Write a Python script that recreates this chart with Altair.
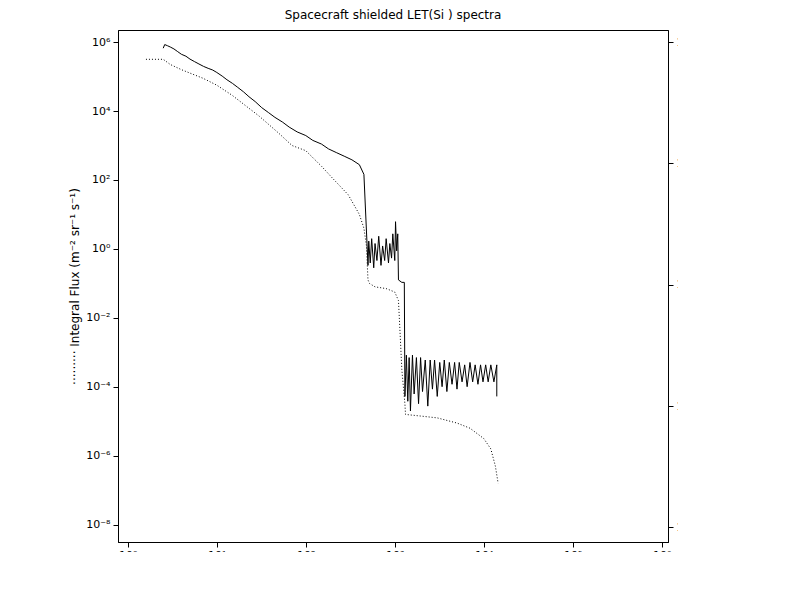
import altair as alt
import pandas as pd
import numpy as np

# integral flux (dotted, left axis), log10 values
int_let = [1.6, 2.5, 3, 4, 5, 7, 10, 15, 20, 30, 50, 70, 100, 150, 200, 300, 400, 450, 480, 500,
           520, 600, 800, 1000, 1100, 1150, 1200, 1300, 1320, 2000, 3000, 5000, 7000, 10000, 12000, 13500, 14500]
int_log = [5.5, 5.5, 5.35, 5.2, 5.1, 4.95, 4.75, 4.45, 4.2, 3.85, 3.35, 3.0, 2.85, 2.4, 2.05, 1.57, 1.0, 0.6, 0.1, -0.9,
           -1.0, -1.1, -1.15, -1.25, -1.5, -2.5, -3.5, -4.5, -4.8, -4.85, -4.9, -5.05, -5.2, -5.5, -5.8, -6.3, -6.8]

# differential flux (solid, right axis), log10 values
diff_let = [2.5, 2.6, 2.8, 3.0, 3.3, 3.6, 4.0, 4.5, 5.0, 5.6, 6.3, 7.1, 8.0, 9.0, 10, 11.5, 13, 15, 17, 20,
            23, 27, 32, 38, 45, 55, 65, 80, 100, 120, 150, 180, 220, 270, 330, 400, 450, 500,
            510, 530, 550, 580, 600, 630, 660, 700, 730, 770, 800, 850, 880, 920, 950, 1000, 1020, 1050, 1080, 1100, 1200,
            1280, 1300, 1350, 1400, 1450, 1500, 1580, 1650, 1750, 1850, 1950, 2050, 2200, 2350, 2500, 2650, 2800,
            3000, 3200, 3400, 3600, 3850, 4100, 4400, 4700, 5000, 5300, 5700, 6100, 6500, 7000, 7500, 8000,
            8600, 9200, 9800, 10500, 11200, 12000, 13000, 14000, 14000]
diff_log = [4.75, 4.9, 4.85, 4.8, 4.72, 4.62, 4.5, 4.42, 4.3, 4.2, 4.1, 4.0, 3.92, 3.85, 3.75, 3.6, 3.45, 3.3, 3.15, 2.95,
            2.75, 2.55, 2.3, 2.1, 1.9, 1.7, 1.5, 1.3, 1.15, 0.95, 0.8, 0.6, 0.45, 0.3, 0.15, -0.05, -0.45, -4.2,
            -3.2, -4.1, -3.1, -4.3, -3.3, -4.0, -3.0, -4.2, -3.4, -4.0, -3.1, -4.1, -3.3, -3.9, -2.9, -4.0, -2.4, -3.6, -2.9, -4.8, -4.9,
            -4.9, -9.6, -7.9, -9.8, -8.0, -10.2, -7.9, -9.5, -8.0, -9.9, -8.0, -9.4, -8.1, -10.0, -8.1, -9.3, -8.1,
            -9.6, -8.2, -9.2, -8.1, -9.4, -8.2, -9.1, -8.2, -9.3, -8.2, -9.0, -8.3, -9.2, -8.2, -9.0, -8.3,
            -9.1, -8.3, -9.0, -8.3, -9.0, -8.3, -9.0, -8.3, -9.6]

SUP = "⁰¹²³⁴⁵⁶⁷⁸⁹"
E = "round(log(datum.value)/LN10)"
pow_label = (f"'10' + ({E}<0 ? '⁻' : '') + (abs({E})>=10 ? substring('{SUP}', floor(abs({E})/10), floor(abs({E})/10)+1) : '')"
             f" + substring('{SUP}', abs({E})%10, abs({E})%10+1)")

df_int = pd.DataFrame({"let": int_let, "flux": [10.0 ** v for v in int_log], "i": range(len(int_let))})
df_diff = pd.DataFrame({"let": diff_let, "flux": [10.0 ** v for v in diff_log], "i": range(len(diff_let))})

font = "DejaVu Sans"
xscale = alt.Scale(type="log", domain=[10 ** -0.11, 10 ** 6.07], nice=False)
xaxis = alt.Axis(values=[10.0 ** k for k in range(0, 7)], labelExpr=pow_label, title="LET(Si  ) (MeV cm² g⁻¹)",
                 grid=False, tickSize=5, labelPadding=2, domainColor="black", tickColor="black", titlePadding=2)

left = alt.Chart(df_int).mark_line(color="black", strokeDash=[1, 2], strokeWidth=1).encode(
    x=alt.X("let:Q", scale=xscale, axis=xaxis),
    y=alt.Y("flux:Q", scale=alt.Scale(type="log", domain=[10 ** -8.5, 10 ** 6.35], nice=False),
            axis=alt.Axis(values=[10.0 ** k for k in range(-8, 7, 2)], labelExpr=pow_label, grid=False,
                          tickSize=5, labelPadding=3, title="·········   Integral Flux (m⁻² sr⁻¹ s⁻¹)",
                          domainColor="black", tickColor="black")),
    order="i:Q",
)

right = alt.Chart(df_diff).mark_line(color="black", strokeWidth=1).encode(
    x=alt.X("let:Q", scale=xscale),
    y=alt.Y("flux:Q", scale=alt.Scale(type="log", domain=[10 ** -15.6, 10 ** 5.5], nice=False),
            axis=alt.Axis(orient="right", values=[10.0 ** k for k in range(-15, 6, 5)], labelExpr=pow_label,
                          grid=False, tickSize=5, labelPadding=3,
                          title="Differential Flux ((m⁻² sr⁻¹ s⁻¹) (MeV cm² g⁻¹)⁻¹)   ——",
                          domainColor="black", tickColor="black")),
    order="i:Q",
)

chart = alt.layer(left, right).resolve_scale(y="independent").properties(
    width=550, height=512,
    title="Spacecraft shielded LET(Si  ) spectra",
    autosize=alt.AutoSizeParams(type="none"),
    padding={"left": 110, "top": 22, "right": 10, "bottom": 10},
).configure_view(stroke="black", strokeWidth=1).configure_axis(
    labelFont=font, titleFont=font, labelFontSize=11, titleFontSize=12, labelColor="black", titleColor="black",
    titleFontWeight="normal",
).configure_title(font=font, fontSize=12, fontWeight="normal", offset=8)

chart.save("out.html", embed_options={"renderer": "svg", "actions": False})
